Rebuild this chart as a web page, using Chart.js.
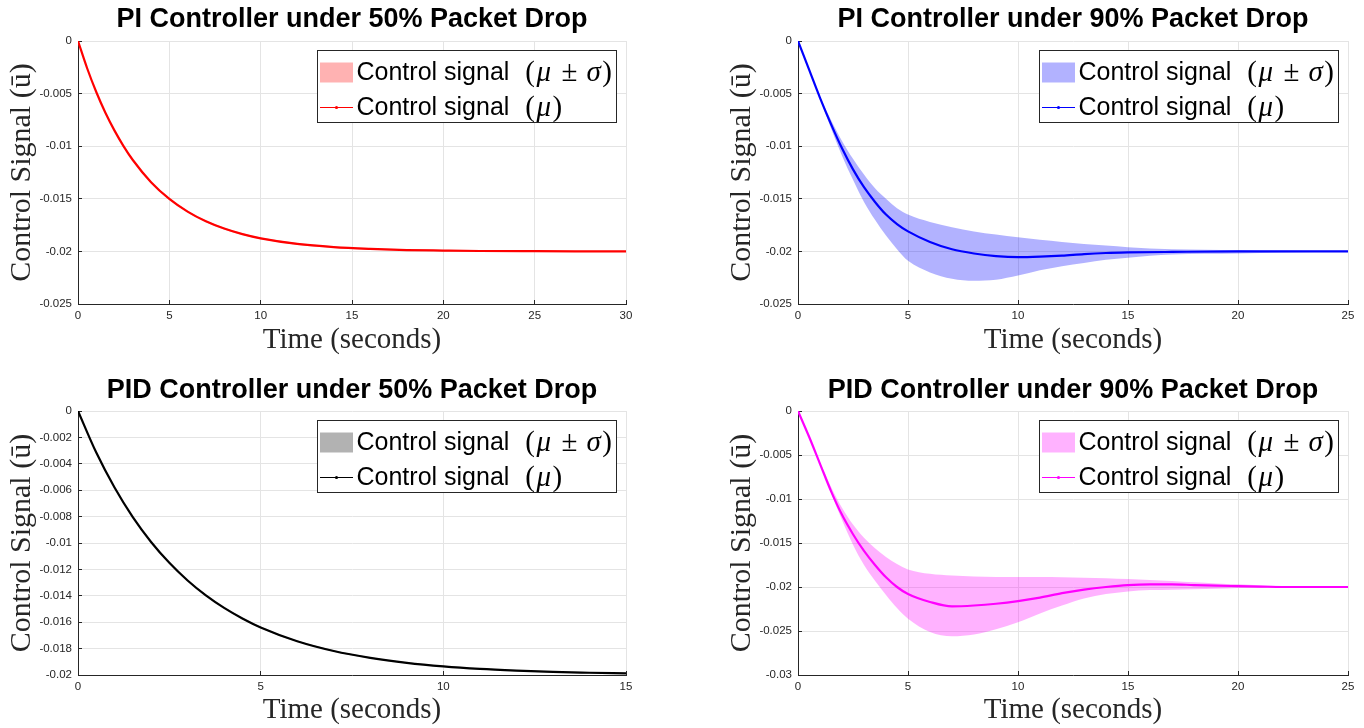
<!DOCTYPE html>
<html>
<head>
<meta charset="utf-8">
<script src="https://cdn.jsdelivr.net/npm/chart.js@4.4.0/dist/chart.umd.min.js"></script>
<style>
  body { margin: 0; background: #fff; }
  #fig { position: relative; width: 1364px; height: 728px; }
  .panel { position: absolute; width: 682px; height: 364px; }
</style>
</head>
<body>
<div id="fig">
  <div class="panel" style="left:0;top:0"><canvas id="pi50"></canvas></div>
  <div class="panel" style="left:682px;top:0"><canvas id="pi90"></canvas></div>
  <div class="panel" style="left:0;top:364px"><canvas id="pid50"></canvas></div>
  <div class="panel" style="left:682px;top:364px"><canvas id="pid90"></canvas></div>
</div>
<script>
// PI controller, 50% packet drop
const pi50Time  = [0, 0.5, 1, 1.5, 2, 2.5, 3, 4, 5, 6, 7, 8, 9, 10, 12, 14, 16, 18, 20, 22, 25, 30];
const pi50Mean  = [0, -0.00259, -0.00485, -0.00682, -0.00852, -0.01001, -0.01131, -0.01342, -0.01501, -0.01622, -0.01714, -0.01783, -0.01836, -0.01876, -0.01929, -0.01959, -0.01976, -0.01987, -0.01992, -0.01996, -0.01998, -0.0200];
const pi50Upper = [0, -0.00251, -0.00476, -0.00673, -0.00843, -0.00992, -0.01122, -0.01333, -0.01492, -0.01613, -0.01705, -0.01774, -0.01827, -0.01867, -0.0192, -0.0195, -0.01968, -0.0198, -0.01986, -0.0199, -0.01994, -0.01997];
const pi50Lower = [0, -0.00267, -0.00494, -0.00691, -0.00861, -0.0101, -0.0114, -0.01351, -0.0151, -0.01631, -0.01723, -0.01792, -0.01845, -0.01885, -0.01938, -0.01968, -0.01984, -0.01994, -0.01998, -0.0200, -0.02002, -0.02003];

// PI controller, 90% packet drop
const pi90Time  = [0, 0.5, 1, 1.5, 2, 2.5, 3, 3.5, 4, 4.5, 5, 6, 7, 8, 9, 10, 11, 12, 13, 14, 15, 17, 20, 22, 25];
const pi90Mean  = [0, -0.0027, -0.0054, -0.0079, -0.0102, -0.0122, -0.0139, -0.0153, -0.0165, -0.0174, -0.0181, -0.0191, -0.0198, -0.0202, -0.02045, -0.02055, -0.0205, -0.0204, -0.02025, -0.02015, -0.0201, -0.02005, -0.0200, -0.0200, -0.0200];
const pi90Upper = [0, -0.0027, -0.0053, -0.0075, -0.0095, -0.0112, -0.0127, -0.0140, -0.0150, -0.0159, -0.0165, -0.0172, -0.0177, -0.0181, -0.0184, -0.01866, -0.0189, -0.0191, -0.0193, -0.01945, -0.0196, -0.0198, -0.01988, -0.01995, -0.0200];
const pi90Lower = [0, -0.0027, -0.0055, -0.0083, -0.0109, -0.0132, -0.0153, -0.0170, -0.0185, -0.0198, -0.0209, -0.0220, -0.0226, -0.0228, -0.0227, -0.0223, -0.0218, -0.0214, -0.0211, -0.0208, -0.0206, -0.0203, -0.0202, -0.0201, -0.0200];

// PID controller, 50% packet drop
const pid50Time  = [0, 0.5, 1, 1.5, 2, 2.5, 3, 3.5, 4, 4.5, 5, 6, 7, 8, 9, 10, 11, 12, 13, 14, 15];
const pid50Mean  = [0, -0.00315, -0.0058, -0.00804, -0.00992, -0.0115, -0.01284, -0.01397, -0.01492, -0.01572, -0.0164, -0.01744, -0.01818, -0.0187, -0.01908, -0.01935, -0.01954, -0.01967, -0.01977, -0.01983, -0.01988];
const pid50Upper = [0, -0.0031, -0.00575, -0.00799, -0.00987, -0.01145, -0.01279, -0.01392, -0.01487, -0.01567, -0.01635, -0.01739, -0.01813, -0.01865, -0.01903, -0.0193, -0.01949, -0.01962, -0.01972, -0.01978, -0.01983];
const pid50Lower = [0, -0.0032, -0.00585, -0.00809, -0.00997, -0.01155, -0.01289, -0.01402, -0.01497, -0.01577, -0.01645, -0.01749, -0.01823, -0.01875, -0.01913, -0.0194, -0.01959, -0.01972, -0.01982, -0.01988, -0.01993];

// PID controller, 90% packet drop
const pid90Time  = [0, 0.5, 1, 1.5, 2, 2.5, 3, 3.5, 4, 4.5, 5, 6, 7, 8, 9, 10, 11, 12, 13, 14, 15, 16, 17, 18, 19, 20, 21, 22, 23, 25];
const pid90Mean  = [0, -0.0029, -0.0060, -0.0091, -0.0118, -0.0140, -0.0159, -0.0175, -0.0189, -0.0200, -0.0208, -0.0217, -0.0222, -0.0221, -0.0219, -0.0216, -0.0212, -0.0207, -0.0203, -0.0200, -0.01978, -0.0197, -0.0197, -0.01978, -0.01985, -0.0199, -0.01995, -0.0200, -0.0200, -0.0200];
const pid90Upper = [0, -0.0029, -0.0058, -0.0086, -0.0110, -0.0129, -0.0144, -0.0156, -0.0166, -0.0174, -0.0180, -0.0185, -0.0187, -0.0188, -0.01885, -0.01885, -0.01887, -0.0189, -0.01895, -0.0190, -0.0191, -0.0192, -0.01932, -0.01947, -0.0196, -0.0197, -0.0198, -0.01988, -0.01995, -0.0200];
const pid90Lower = [0, -0.0029, -0.0060, -0.0093, -0.0124, -0.0152, -0.0175, -0.0193, -0.0209, -0.0224, -0.0236, -0.0251, -0.0256, -0.0254, -0.0248, -0.0240, -0.0230, -0.0221, -0.0213, -0.0208, -0.0205, -0.02035, -0.0203, -0.02025, -0.0202, -0.0201, -0.02005, -0.0200, -0.0200, -0.0200];

const meanLabel = 'Control signal (μ)';
const bandLabel = 'Control signal (μ ± σ)';
const xLabel = 'Time (seconds)';
const yLabel = 'Control Signal (ū)';

const SANS = '"Liberation Sans", Arial, sans-serif';
const SERIF = '"Liberation Serif", "Times New Roman", serif';
const AXIS = '#262626';

// legend drawn inside the plot, top right, like matlab's 'northeast'
const bandLegend = {
  id: 'bandLegend',
  afterDraw(chart) {
    const { ctx, chartArea } = chart;
    const meanSet = chart.data.datasets[0];
    const bandSet = chart.data.datasets[1];

    // split "Control signal (μ ± σ)" into the sans part and the math part
    function parts(label) {
      const i = label.indexOf('(');
      const out = [{ t: label.slice(0, i).trim(), f: '25px ' + SANS }, { gap: 16 }];
      for (const ch of label.slice(i)) {
        if (ch === ' ') { out.push({ gap: 9 }); continue; }
        const greek = /[μσ]/.test(ch);
        out.push({ t: ch, f: (greek ? 'italic ' : '') + '29px ' + SERIF });
        if (ch === '(' || greek) out.push({ gap: 1.5 });
      }
      return out;
    }
    function width(row) {
      let w = 0;
      row.forEach(p => {
        if (p.gap) { w += p.gap; return; }
        ctx.font = p.f;
        w += ctx.measureText(p.t).width;
      });
      return w;
    }

    const rows = [parts(bandSet.label), parts(meanSet.label)];
    const textW = Math.max(width(rows[0]), width(rows[1]));
    const boxW = Math.round(39 + textW + 5);
    const boxH = 72;
    const x0 = Math.round(chartArea.right - 10 - boxW) + 0.5;
    const y0 = Math.round(chartArea.top + 9) + 0.5;

    ctx.save();
    ctx.fillStyle = '#fff';
    ctx.fillRect(x0, y0, boxW, boxH);
    ctx.strokeStyle = AXIS;
    ctx.lineWidth = 1;
    ctx.strokeRect(x0, y0, boxW, boxH);

    const r1 = y0 + 22;
    const r2 = y0 + 57;
    ctx.fillStyle = bandSet.backgroundColor;
    ctx.fillRect(x0 + 2.5, r1 - 10, 33, 20);

    ctx.strokeStyle = meanSet.borderColor;
    ctx.lineWidth = 1;
    ctx.beginPath();
    ctx.moveTo(x0 + 2.5, r2);
    ctx.lineTo(x0 + 35.5, r2);
    ctx.stroke();
    ctx.fillStyle = meanSet.borderColor;
    ctx.beginPath();
    ctx.arc(x0 + 19, r2, 1.6, 0, Math.PI * 2);
    ctx.fill();

    ctx.fillStyle = '#000';
    ctx.textBaseline = 'middle';
    [[rows[0], r1], [rows[1], r2]].forEach(([row, y]) => {
      let x = x0 + 39;
      row.forEach(p => {
        if (p.gap) { x += p.gap; return; }
        ctx.font = p.f;
        ctx.fillText(p.t, x, y + 1);
        x += ctx.measureText(p.t).width;
      });
    });
    ctx.restore();
  }
};

function tickText(v) {
  if (Math.abs(v) < 1e-12) return '0';
  return String(+v.toFixed(4));
}

function pts(xs, ys) {
  return xs.map((x, i) => ({ x: x, y: ys[i] }));
}

function makePanel(id, p) {
  return new Chart(document.getElementById(id), {
    type: 'line',
    data: {
      datasets: [
        {
          label: meanLabel,
          data: pts(p.time, p.mean),
          borderColor: p.line,
          borderWidth: 2.2,
          pointRadius: 0,
          fill: false,
        },
        {
          label: bandLabel,
          data: pts(p.time, p.upper),
          borderColor: 'rgba(0,0,0,0)',
          backgroundColor: p.band,
          borderWidth: 0,
          pointRadius: 0,
          fill: '+1',
        },
        {
          label: 'lower',
          data: pts(p.time, p.lower),
          borderColor: 'rgba(0,0,0,0)',
          borderWidth: 0,
          pointRadius: 0,
          fill: false,
        },
      ],
    },
    options: {
      responsive: true,
      maintainAspectRatio: false,
      animation: false,
      events: [],
      layout: { padding: { left: p.padLeft, right: p.padRight, top: 0, bottom: 0 } },
      elements: { line: { cubicInterpolationMode: 'monotone' } },
      plugins: {
        legend: { display: false },
        tooltip: { enabled: false },
        title: {
          display: true,
          text: p.title,
          fullSize: false,
          color: '#000',
          font: { family: SANS, size: 27, weight: 'bold' },
          padding: { top: p.titleTop, bottom: p.titleBottom },
        },
      },
      scales: {
        x: {
          type: 'linear',
          min: 0,
          max: p.xMax,
          afterFit: s => { s.height = p.xAxisH; },
          ticks: { stepSize: 5, color: AXIS, padding: 9, maxRotation: 0, font: { family: SANS, size: 11.5 } },
          grid: { color: '#e4e4e4', tickLength: -4, tickColor: AXIS },
          border: { color: AXIS, width: 1 },
          title: {
            display: true,
            text: xLabel,
            color: AXIS,
            font: { family: SERIF, size: 29 },
            padding: { top: 0, bottom: p.xTitlePad },
          },
        },
        y: {
          min: p.yMin,
          max: 0,
          afterFit: s => { s.width = 78; },
          ticks: { stepSize: p.yStep, color: AXIS, padding: 10, callback: tickText, font: { family: SANS, size: 11.5 } },
          grid: { color: '#e4e4e4', tickLength: -4, tickColor: AXIS },
          border: { color: AXIS, width: 1 },
          title: {
            display: true,
            text: yLabel,
            color: AXIS,
            font: { family: SERIF, size: 30 },
            padding: { top: 4, bottom: 0 },
          },
        },
      },
    },
    plugins: [bandLegend],
  });
}

makePanel('pi50', {
  title: 'PI Controller under 50% Packet Drop',
  time: pi50Time, mean: pi50Mean, upper: pi50Upper, lower: pi50Lower,
  line: '#ff0000', band: 'rgba(255,0,0,0.3)',
  xMax: 30, yMin: -0.025, yStep: 0.005,
  padLeft: 0, padRight: 56, titleTop: 3, titleBottom: 5.6, xAxisH: 60, xTitlePad: 6.6,
});
makePanel('pi90', {
  title: 'PI Controller under 90% Packet Drop',
  time: pi90Time, mean: pi90Mean, upper: pi90Upper, lower: pi90Lower,
  line: '#0000ff', band: 'rgba(0,0,255,0.3)',
  xMax: 25, yMin: -0.025, yStep: 0.005,
  padLeft: 38, padRight: 16, titleTop: 3, titleBottom: 5.6, xAxisH: 60, xTitlePad: 6.6,
});
makePanel('pid50', {
  title: 'PID Controller under 50% Packet Drop',
  time: pid50Time, mean: pid50Mean, upper: pid50Upper, lower: pid50Lower,
  line: '#000000', band: 'rgba(0,0,0,0.3)',
  xMax: 15, yMin: -0.02, yStep: 0.002,
  padLeft: 0, padRight: 56, titleTop: 10, titleBottom: 4.6, xAxisH: 53, xTitlePad: 0.6,
});
makePanel('pid90', {
  title: 'PID Controller under 90% Packet Drop',
  time: pid90Time, mean: pid90Mean, upper: pid90Upper, lower: pid90Lower,
  line: '#ff00ff', band: 'rgba(255,0,255,0.3)',
  xMax: 25, yMin: -0.03, yStep: 0.005,
  padLeft: 38, padRight: 16, titleTop: 10, titleBottom: 4.6, xAxisH: 53, xTitlePad: 0.6,
});
</script>
</body>
</html>
